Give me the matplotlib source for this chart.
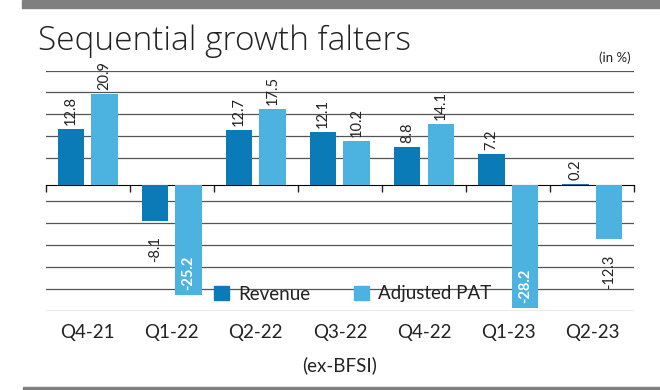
import matplotlib.pyplot as plt
import matplotlib.patches as mpatches
import numpy as np

quarters = ['Q4-21', 'Q1-22', 'Q2-22', 'Q3-22', 'Q4-22', 'Q1-23', 'Q2-23']
revenue = [12.8, -8.1, 12.7, 12.1, 8.8, 7.2, 0.2]
adj_pat = [20.9, -25.2, 17.5, 10.2, 14.1, -28.2, -12.3]
grid_vals = [26.3, 21.3, 16.3, 11.3, 6.3, -3.7, -8.7, -13.7, -18.7, -23.7, -28.7]

c_rev = '#0b7bb7'
c_pat = '#4cb3e1'

plt.rcParams['font.family'] = ['Lato', 'DejaVu Sans']

fig = plt.figure(figsize=(6.6, 3.9), dpi=100)
ax = fig.add_axes([0.069, 0.2036, 0.892, 0.6156])

x = np.arange(len(quarters))
w = 0.315
off = 0.2
b1 = ax.bar(x - off, revenue, w, color=c_rev, zorder=3)
b2 = ax.bar(x + off, adj_pat, w, color=c_pat, zorder=3)

for bars, vals in ((b1, revenue), (b2, adj_pat)):
    for rect, v in zip(bars, vals):
        cx = rect.get_x() + rect.get_width() / 2
        if v >= 0:
            ax.annotate(f'{v}', (cx, v), xytext=(0, 3), textcoords='offset points',
                        rotation=90, ha='center', va='bottom', fontsize=10.5,
                        color='#222222', zorder=5)
        elif v < -20:
            ax.annotate(f'{v}', (cx, v), xytext=(0, 4), textcoords='offset points',
                        rotation=90, ha='center', va='bottom', fontsize=10.5,
                        color='white', fontweight='bold', zorder=5)
        else:
            ax.annotate(f'{v}', (cx, v), xytext=(0, -11), textcoords='offset points',
                        rotation=90, ha='center', va='top', fontsize=10.5,
                        color='#222222', zorder=5)

ax.set_xlim(-0.5, len(quarters) - 0.5)
ax.set_ylim(grid_vals[-1], grid_vals[0])
ax.set_yticks(grid_vals)
ax.yaxis.grid(True, color='#555555', linewidth=0.9, zorder=0)
ax.tick_params(axis='y', left=False, labelleft=False)
ax.set_xticks(x)
ax.set_xticklabels(quarters, fontsize=13.5, color='#222222')
ax.tick_params(axis='x', length=0, pad=10)
for s in ax.spines.values():
    s.set_visible(False)

# zero axis with boundary ticks
y0 = (0 - grid_vals[-1]) / (grid_vals[0] - grid_vals[-1])
sec = ax.secondary_xaxis(y0)
sec.set_xticks(np.arange(-0.5, len(quarters), 1.0))
sec.tick_params(axis='x', direction='out', length=5, width=1, color='#222222',
                labelbottom=False, labeltop=False, bottom=True, top=False)
sec.spines['bottom'].set_color('#222222')
sec.spines['bottom'].set_linewidth(1.1)
sec.xaxis.set_ticks_position('bottom')
sec.set_xticklabels([])

handles = [mpatches.Patch(color=c_rev, label='Revenue'),
           mpatches.Patch(color=c_pat, label='Adjusted PAT')]
fig.legend(handles=handles, ncol=2, loc='center left', bbox_to_anchor=(214 / 660, 1 - 294 / 390),
           frameon=False, fontsize=13.5, handlelength=0.8, handleheight=0.8, handletextpad=0.5,
           columnspacing=2.3, borderpad=0, borderaxespad=0, labelcolor='#222222')

fig.text(38 / 660, 1 - 49.5 / 390, 'Sequential growth falters', fontsize=24, fontweight='light',
         family='Open Sans', color='#222222', ha='left', va='baseline')
fig.text(631 / 660, 1 - 58 / 390, '(in %)', fontsize=9.5, color='#222222', ha='right', va='center')
fig.text(340 / 660, 1 - 365 / 390, '(ex-BFSI)', fontsize=13.5, color='#222222', ha='center', va='center')

fig.patches.append(mpatches.Rectangle((22 / 660, 1 - 7.5 / 390), 1, 7.5 / 390, transform=fig.transFigure,
                                      color='#7f7f7f', zorder=0))
fig.patches.append(mpatches.Rectangle((23 / 660, 0), 1, 3 / 390, transform=fig.transFigure,
                                      color='#7f7f7f', zorder=0))

fig.savefig('out.png', dpi=100)
